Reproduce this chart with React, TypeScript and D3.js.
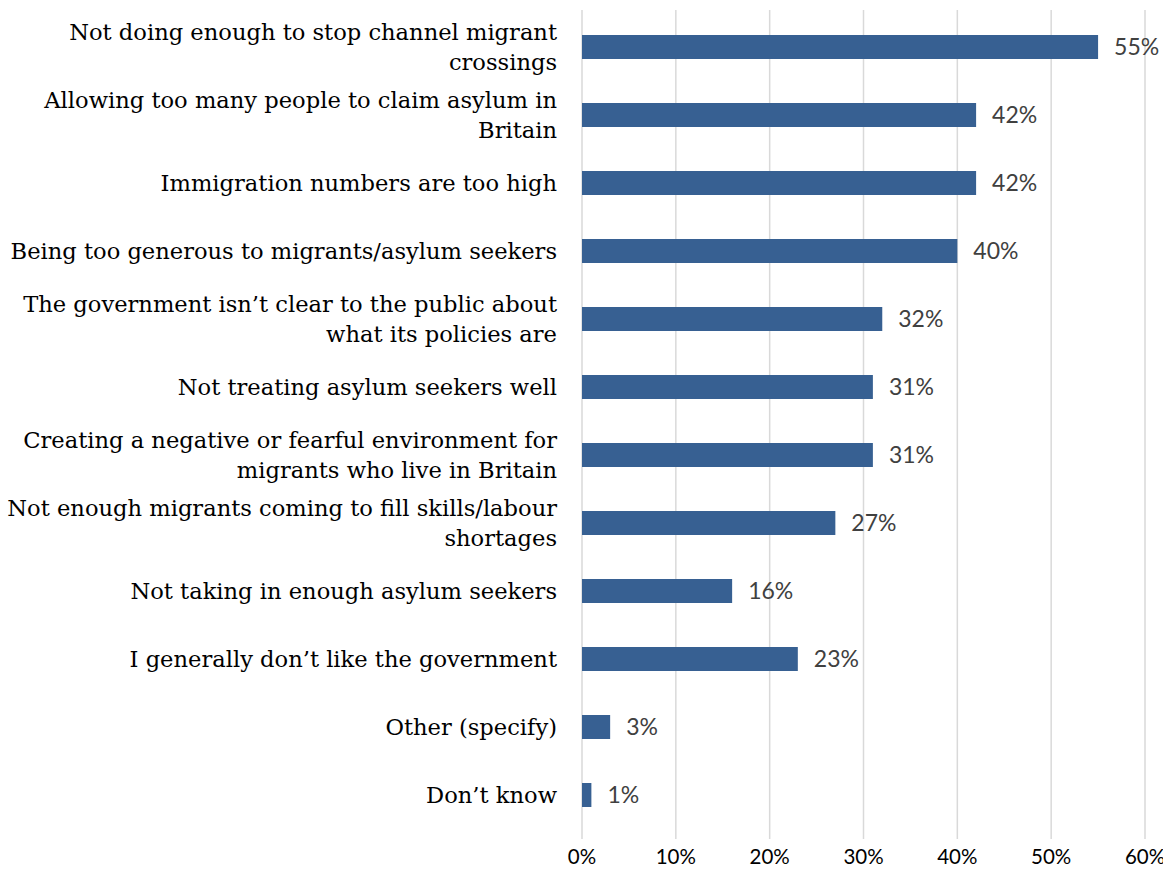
import React from "react";
import * as d3 from "d3";

const categories: string[] = [
  "Not doing enough to stop channel migrant\ncrossings",
  "Allowing too many people to claim asylum in\nBritain",
  "Immigration numbers are too high",
  "Being too generous to migrants/asylum seekers",
  "The government isn\u2019t clear to the public about\nwhat its policies are",
  "Not treating asylum seekers well",
  "Creating a negative or fearful environment for\nmigrants who live in Britain",
  "Not enough migrants coming to fill skills/labour\nshortages",
  "Not taking in enough asylum seekers",
  "I generally don\u2019t like the government",
  "Other (specify)",
  "Don\u2019t know",
];
const values: number[] = [55, 42, 42, 40, 32, 31, 31, 27, 16, 23, 3, 1];
const ticks: number[] = [0, 10, 20, 30, 40, 50, 60];

export default function App() {
  const W = 1163;
  const H = 869;
  const x = d3.scaleLinear().domain([0, 60]).range([582, 1145]);
  const y = d3.scalePoint<string>().domain(categories).range([47, 795]);
  const barH = 24;
  const lineH = 30;
  return (
    <svg
      width={W}
      height={H}
      style={{ position: "absolute", left: 0, top: 0, background: "#fff" }}
    >
      {ticks.map((t) => (
        <line
          key={"g" + t}
          x1={x(t)}
          x2={x(t)}
          y1={10}
          y2={839}
          stroke="#d9d9d9"
          strokeWidth={1.5}
        />
      ))}
      {ticks.map((t) => (
        <text
          key={"t" + t}
          x={x(t)}
          y={864}
          textAnchor="middle"
          fontFamily="Lato, 'Liberation Sans', sans-serif"
          fontSize={20.5}
          fill="#000"
        >
          {t + "%"}
        </text>
      ))}
      {categories.map((c, i) => {
        const cy = y(c) as number;
        const lines = c.split("\n");
        const start = cy - ((lines.length - 1) * lineH) / 2;
        return (
          <g key={c}>
            <rect
              x={x(0)}
              y={cy - barH / 2}
              width={x(values[i]) - x(0)}
              height={barH}
              fill="#376092"
            />
            <text
              x={x(values[i]) + 16}
              y={cy}
              dy="0.35em"
              fontFamily="Lato, 'Liberation Sans', sans-serif"
              fontSize={23}
              fill="#404040"
            >
              {values[i] + "%"}
            </text>
            <text
              textAnchor="end"
              fontFamily="'DejaVu Serif', serif"
              fontSize={22.6}
              fill="#000"
            >
              {lines.map((l, j) => (
                <tspan key={j} x={557} y={start + j * lineH} dy="0.35em">
                  {l}
                </tspan>
              ))}
            </text>
          </g>
        );
      })}
    </svg>
  );
}
